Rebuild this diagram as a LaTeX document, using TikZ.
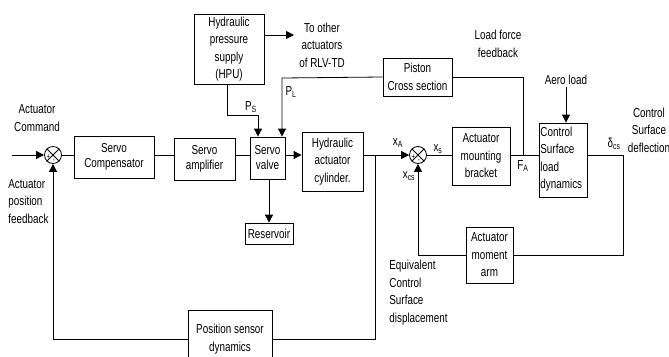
\documentclass[tikz,border=0pt]{standalone}
\usepackage{fontspec}
\setmainfont[FakeStretch=0.76]{Liberation Sans}
\usetikzlibrary{arrows.meta,calc}
\begin{document}
\begin{tikzpicture}[x=1pt,y=-1pt,
  font=\fontsize{13}{17.5}\selectfont, line width=0.8pt,
  box/.style={draw, inner sep=0pt, align=center},
  tight/.style={font=\fontsize{13}{15}\selectfont},
  sj/.style={draw, circle, minimum size=17pt, inner sep=0pt},
  arr/.style={-{Triangle[length=8pt,width=8pt]}},
  lbl/.style={inner sep=0pt, align=center},
  lbll/.style={inner sep=0pt, align=left},
  sgn/.style={inner sep=0pt, font=\fontsize{8}{8}\selectfont}]
\useasboundingbox (0,0) rectangle (669,356);
\clip (0,0) rectangle (669,356);

% blocks
\node[box, minimum width=70pt, minimum height=70pt] (hpu) at (229,49) {Hydraulic\\pressure\\supply\\(HPU)};
\node[box, tight, minimum width=80pt, minimum height=42pt] (comp) at (114,157) {Servo\\Compensator};
\node[box, tight, minimum width=61pt, minimum height=42pt] (amp) at (204.5,159) {Servo\\amplifier};
\node[box, tight, minimum width=35pt, minimum height=42pt] (valve) at (267.5,158) {Servo\\valve};
\node[box, minimum width=61pt, minimum height=59pt] (cyl) at (332.5,161.5) {Hydraulic\\actuator\\cylinder.};
\node[box, minimum width=48pt, minimum height=21pt] (res) at (269,233.5) {Reservoir};
\node[box, minimum width=84pt, minimum height=58pt] (pos) at (230,339) {Position sensor\\dynamics};
\node[box, minimum width=69pt, minimum height=38pt] (piston) at (417.5,77) {Piston\\Cross section};
\node[box, minimum width=58pt, minimum height=58pt] (brk) at (481,156) {Actuator\\mounting\\bracket};
\node[draw, inner sep=0pt, minimum width=48pt, minimum height=74pt] (csl) at (563,160) {};
\node[lbll, anchor=west] at (540,159) {Control\\Surface\\load\\dynamics};
\node[box, minimum width=47pt, minimum height=56pt] (arm) at (489.5,255) {Actuator\\moment\\arm};

% summing junctions
\node[sj] (j1) at (53,155) {};
\draw (j1.north west) -- (j1.south east) (j1.north east) -- (j1.south west);
\node[sgn] at ($(j1)+(-4.5,2.5)$) {+};
\node[sgn] at ($(j1)+(1,6.5)$) {-};
\node[sj] (j2) at (418,155) {};
\draw (j2.north west) -- (j2.south east) (j2.north east) -- (j2.south west);
\node[sgn] at ($(j2)+(-4.5,2.5)$) {+};
\node[sgn] at ($(j2)+(1,6.5)$) {-};

% free coordinates
\coordinate (cmd) at (12,155);
\coordinate (toother) at (294,35);
\coordinate (aero) at (566,87);
\coordinate (ps1) at (227,115);
\coordinate (ps2) at (258,115);
\coordinate (pl) at (282,78);
\coordinate (fa) at (523,155);
\coordinate (fb) at (375,155);
\coordinate (out) at (623,155);
\coordinate (outd) at (623,255);

% labels
\node[lbl] at (37,118) {Actuator\\Command};
\node[lbll, anchor=north west] at (8,179) {Actuator\\position\\feedback};
\node[lbl] at (322,45) {To other\\actuators\\of RLV-TD};
\node[lbl] at (498,44) {Load force\\feedback};
\node[lbl] at (566,80) {Aero load};
\node[lbl] at (649,130) {Control\\Surface\\deflection};
\node[lbll, anchor=north west] at (389,260) {Equivalent\\Control\\Surface\\displacement};
\node[lbl] at (251,107) {P\textsubscript{S}};
\node[lbl] at (291,92) {P\textsubscript{L}};
\node[lbl] at (398,143) {x\textsubscript{A}};
\node[lbl] at (438,149) {x\textsubscript{s}};
\node[lbl] at (409,176) {x\textsubscript{cs}};
\node[lbl] at (523,166) {F\textsubscript{A}};
\node[lbl] at (614,144) {δ\textsubscript{cs}};

% connectors
\draw[arr] (cmd) -- (j1.west);
\draw (j1.east) -- (comp.west |- j1.east);
\draw (comp.east |- j1.east) -- (amp.west |- j1.east);
\draw (amp.east |- j1.east) -- (valve.west |- j1.east);
\draw[arr] (valve.east |- j1.east) -- (cyl.west |- j1.east);
\draw[arr] (cyl.east |- j2.west) -- (j2.west);
\draw (j2.east) -- (brk.west |- j2.east);
\draw (brk.east |- j2.east) -- (csl.west |- j2.east);
\draw (csl.east |- out) -- (out) -- (outd) -- (arm.east);
\draw[arr] (arm.west) -| (j2.south);
\draw (fb) -- (fb |- pos.east) -- (pos.east);
\draw[arr] (pos.west) -| (j1.south);
\draw (fa) -- (fa |- piston.east) -- (piston.east);
\draw[arr] (piston.west) -- (pl) -- (pl |- valve.north);
\draw[arr] (hpu.south -| ps1) -- (ps1) -- (ps2) -- (ps2 |- valve.north);
\draw[arr] (hpu.east |- toother) -- (toother);
\draw[arr] (valve.south -| res.north) -- (res.north);
\draw[arr] (aero) -- (aero |- csl.north);
\end{tikzpicture}
\end{document}
